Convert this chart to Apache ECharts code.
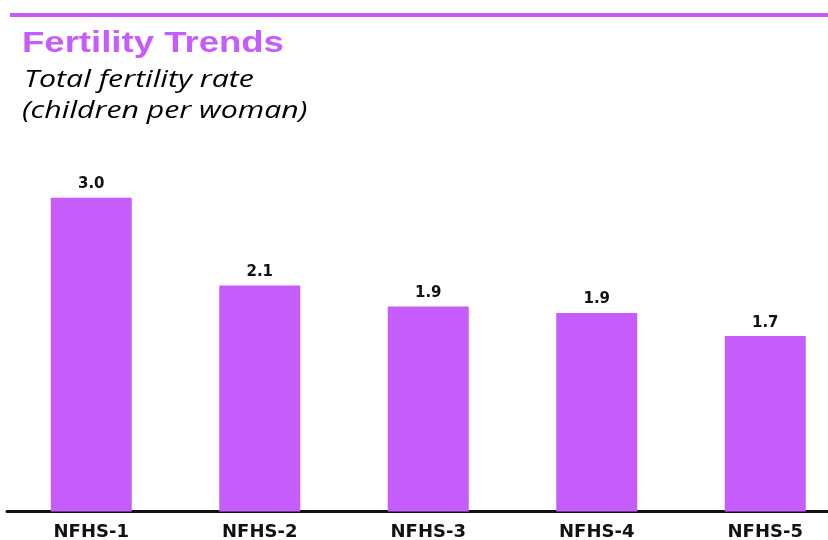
<!DOCTYPE html>
<html>
<head>
<meta charset="utf-8">
<script src="https://cdn.jsdelivr.net/npm/echarts@6/dist/echarts.min.js"></script>
<style>
html,body{margin:0;padding:0;background:#fff;}
#chart{width:828px;height:540px;}
</style>
</head>
<body>
<div id="chart"></div>
<script>
const titleText = "Fertility Trends";
const subtitleLines = ["Total fertility rate", "(children per woman)"];
const categories = ["NFHS-1", "NFHS-2", "NFHS-3", "NFHS-4", "NFHS-5"];
const tfrValues = [2.97, 2.14, 1.94, 1.88, 1.66];

const purple = "#C65CFC";
const chart = echarts.init(document.getElementById('chart'), null, {renderer: 'canvas'});
chart.setOption({
  animation: false,
  backgroundColor: '#ffffff',
  graphic: [
    {type: 'rect', left: 10, top: 13, shape: {width: 818, height: 4}, style: {fill: purple}, silent: true},
    {type: 'text', x: 22, y: 44, scaleX: 1.26, style: {text: titleText, font: 'bold 29px "Liberation Sans", Arial, sans-serif', fill: purple, verticalAlign: 'middle', align: 'left'}},
    {type: 'text', x: 24, y: 80, scaleX: 1.315, style: {text: subtitleLines[0], font: 'italic 23px "Open Sans", sans-serif', fill: '#000', verticalAlign: 'middle', align: 'left'}},
    {type: 'text', x: 22, y: 111, scaleX: 1.315, style: {text: subtitleLines[1], font: 'italic 23px "Open Sans", sans-serif', fill: '#000', verticalAlign: 'middle', align: 'left'}}
  ],
  grid: {left: 7, width: 842.5, top: 88.9, bottom: 28.5, containLabel: false, outerBoundsMode: 'none'},
  xAxis: {
    type: 'category',
    data: categories,
    axisLine: {show: true, lineStyle: {color: '#111', width: 3}},
    axisTick: {show: false},
    axisLabel: {color: '#111', fontFamily: '"DejaVu Sans", sans-serif', fontWeight: 'bold', fontSize: 18, margin: 12}
  },
  yAxis: {
    type: 'value', min: 0, max: 4, show: false,
    splitLine: {show: false}
  },
  series: [{
    type: 'bar',
    data: tfrValues,
    barWidth: 81,
    itemStyle: {color: purple},
    z: 1,
    label: {
      show: true, position: 'top', distance: 6,
      color: '#111', fontFamily: '"DejaVu Sans", sans-serif', fontWeight: 'bold', fontSize: 15,
      formatter: p => p.value.toFixed(1)
    }
  }]
});
</script>
</body>
</html>
